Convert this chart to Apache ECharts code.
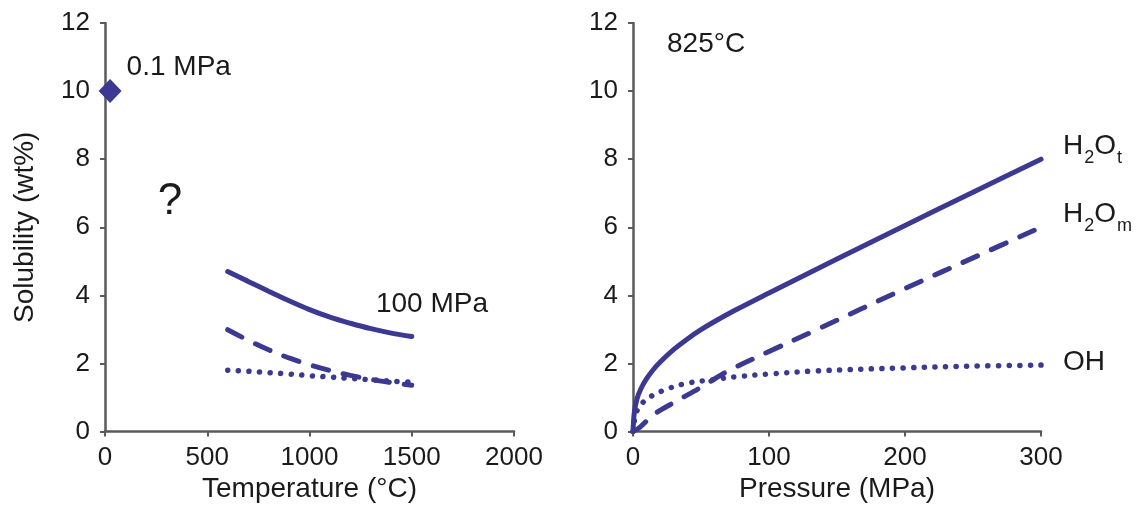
<!DOCTYPE html>
<html>
<head>
<meta charset="utf-8">
<script src="https://cdn.jsdelivr.net/npm/echarts@6/dist/echarts.min.js"></script>
<style>
html,body{margin:0;padding:0;background:#fff;}
#c{width:1141px;height:513px;}
</style>
</head>
<body>
<div id="c"></div>
<script>
// ---- Left panel: solubility vs temperature at 100 MPa ----
const tempC = [600, 700, 800, 900, 1000, 1100, 1200, 1300, 1400, 1500];
const leftTotal = [4.70, 4.41, 4.12, 3.84, 3.58, 3.36, 3.18, 3.02, 2.89, 2.79];
const leftMol   = [2.99, 2.68, 2.40, 2.16, 1.96, 1.79, 1.65, 1.53, 1.44, 1.36];
const leftOH    = [1.80, 1.77, 1.73, 1.69, 1.64, 1.60, 1.56, 1.52, 1.48, 1.45];
const ambientPoint = [25, 10];           // 0.1 MPa point
const leftXTicks = [0, 500, 1000, 1500, 2000];

// ---- Right panel: solubility vs pressure at 825 °C ----
const pTotal = [0, 1, 3, 6, 10, 15, 20, 30, 40, 50, 60, 75, 100, 125, 150, 200, 250, 300];
const rightTotal = [0, 0.57, 0.97, 1.27, 1.55, 1.82, 2.04, 2.41, 2.72, 2.99, 3.23, 3.56, 4.07, 4.57, 5.07, 6.05, 7.03, 8.0];
const pMol = [0, 5, 15, 30, 50, 70, 100, 135, 200, 250, 300];
const rightMol = [0, 0.12, 0.49, 0.85, 1.3, 1.78, 2.35, 2.99, 4.2, 5.1, 6.0];
const pOH = [0, 2, 5, 10, 15, 25, 40, 60, 76, 100, 135, 200, 250, 300];
const rightOH = [0, 0.5, 0.75, 0.95, 1.07, 1.25, 1.42, 1.53, 1.61, 1.69, 1.78, 1.87, 1.92, 1.95];
const rightXTicks = [0, 100, 200, 300];
const yTicks = [0, 2, 4, 6, 8, 10, 12];

// ---- Annotations (data coordinates) ----
const leftNotes = [
  { name: '?', value: [318, 6.75], size: 44, pos: 'inside' },
  { name: '100 MPa', value: [1325, 3.75], size: 28, pos: 'right' }
];
const rightNotes = [
  { name: '825°C', value: [25, 11.37], size: 28, pos: 'right' }
];

const COLOR = '#3b3991';
const TEXT = '#1a1a1a';
const FONT = "'Liberation Sans', Arial, sans-serif";
const AXIS = '#5a5a5a';

const zip = (xs, ys) => xs.map((x, i) => [x, ys[i]]);

function xAxisCfg(idx, ticks, name) {
  return {
    type: 'value', gridIndex: idx, min: ticks[0], max: ticks[ticks.length - 1],
    interval: ticks[1] - ticks[0],
    name: name, nameLocation: 'middle', nameGap: 44,
    nameTextStyle: { fontSize: 28, color: TEXT, fontFamily: FONT },
    axisLine: { show: true, lineStyle: { color: AXIS, width: 2.5 } },
    axisTick: { show: true, length: 5, lineStyle: { color: AXIS, width: 2 } },
    axisLabel: { fontSize: 26, color: TEXT, fontFamily: FONT, margin: 13,
                 formatter: v => String(v) },
    splitLine: { show: false }
  };
}
function yAxisCfg(idx, name) {
  return {
    type: 'value', gridIndex: idx, min: yTicks[0], max: yTicks[yTicks.length - 1],
    interval: yTicks[1] - yTicks[0],
    name: name, nameLocation: 'middle', nameGap: 66, nameRotate: 90,
    nameTextStyle: { fontSize: 28, color: TEXT, fontFamily: FONT },
    axisLine: { show: true, lineStyle: { color: AXIS, width: 2.5 } },
    axisTick: { show: true, length: 5, lineStyle: { color: AXIS, width: 2 } },
    axisLabel: { fontSize: 26, color: TEXT, fontFamily: FONT, margin: 15,
                 formatter: v => String(v) },
    splitLine: { show: false }
  };
}

const solid = { color: COLOR, width: 5, type: 'solid', cap: 'round' };
const dashed = { color: COLOR, width: 5, type: [16, 15], cap: 'round' };
const dotted = { color: COLOR, width: 5.5, type: [0.1, 10.5], cap: 'round' };

function lineSeries(xi, data, style, endLabel) {
  const s = {
    type: 'line', xAxisIndex: xi, yAxisIndex: xi, data: data,
    smooth: 0.35, showSymbol: false, symbol: 'none', lineStyle: style,
    silent: true, animation: false
  };
  if (endLabel) s.endLabel = endLabel;
  return s;
}

const rich = {
  a: { fontSize: 28, color: TEXT, fontFamily: FONT, lineHeight: 28, verticalAlign: 'middle' },
  s: { fontSize: 18, color: TEXT, fontFamily: FONT, lineHeight: 18, padding: [23, 0, 0, 1], verticalAlign: 'middle' }
};

function notesSeries(xi, notes) {
  return {
    type: 'scatter', xAxisIndex: xi, yAxisIndex: xi, symbolSize: 0, silent: true,
    animation: false, itemStyle: { opacity: 1 },
    data: notes.map(n => ({
      name: n.name, value: n.value,
      label: {
        show: true, position: n.pos, distance: 0, formatter: n.name,
        fontSize: n.size, color: TEXT, fontFamily: FONT
      }
    }))
  };
}

const option = {
  backgroundColor: '#ffffff',
  animation: false,
  grid: [
    { left: 105, right: 627, top: 23, bottom: 81.5 },
    { left: 633, right: 100, top: 23, bottom: 81.5 }
  ],
  xAxis: [
    xAxisCfg(0, leftXTicks, 'Temperature (°C)'),
    xAxisCfg(1, rightXTicks, 'Pressure (MPa)')
  ],
  yAxis: [
    yAxisCfg(0, 'Solubility (wt%)'),
    yAxisCfg(1, '')
  ],
  series: [
    lineSeries(0, zip(tempC, leftTotal), solid),
    lineSeries(0, zip(tempC, leftMol), dashed),
    lineSeries(0, zip(tempC, leftOH), dotted),
    {
      type: 'scatter', xAxisIndex: 0, yAxisIndex: 0, data: [ambientPoint],
      symbol: 'diamond', symbolSize: [23, 24], itemStyle: { color: COLOR, opacity: 1 },
      silent: true, animation: false,
      label: {
        show: true, position: 'right', distance: 5, offset: [0, -24],
        formatter: '0.1 MPa', fontSize: 28, color: TEXT, fontFamily: FONT
      }
    },
    notesSeries(0, leftNotes),
    lineSeries(1, zip(pTotal, rightTotal), solid, {
      show: true, formatter: '{a|H}{s|2}{a|O}{s|t}', rich: rich, offset: [14, -12.5]
    }),
    lineSeries(1, zip(pMol, rightMol), dashed, {
      show: true, formatter: '{a|H}{s|2}{a|O}{s|m}', rich: rich, offset: [14, -12.5]
    }),
    lineSeries(1, zip(pOH, rightOH), dotted, {
      show: true, formatter: 'OH', fontSize: 28, color: TEXT, fontFamily: FONT, offset: [14, -3]
    }),
    notesSeries(1, rightNotes)
  ]
};

const chart = echarts.init(document.getElementById('c'), null, { renderer: 'canvas' });
chart.setOption(option);
</script>
</body>
</html>
